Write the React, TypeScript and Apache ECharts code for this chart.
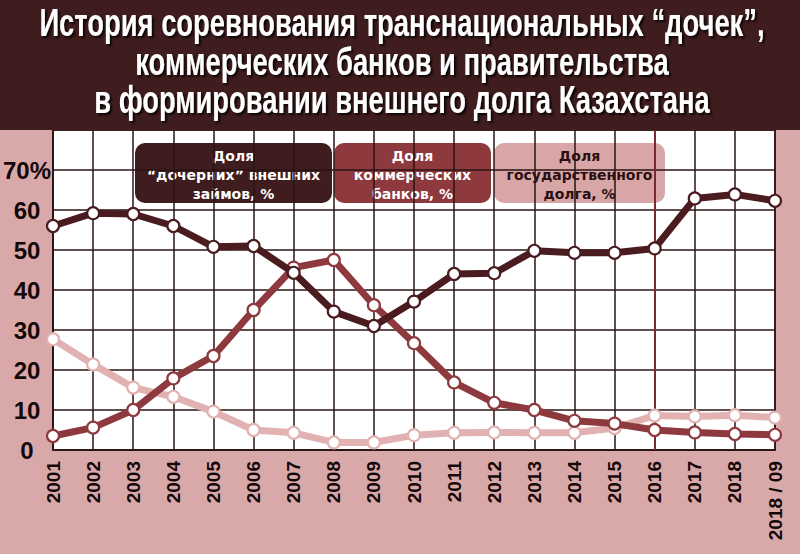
import React, { useEffect, useRef } from "react";
import * as echarts from "echarts";

const categories = [
  "2001", "2002", "2003", "2004", "2005", "2006", "2007", "2008", "2009", "2010",
  "2011", "2012", "2013", "2014", "2015", "2016", "2017", "2018", "2018 / 09",
];

const subsidiaryShare = [56, 59.2, 59, 56, 50.8, 51, 44.3, 34.6, 31, 37.1, 44, 44.2, 49.8, 49.3, 49.3, 50.4, 62.9, 63.9, 62.3];
const bankShare = [3.5, 5.6, 10, 17.9, 23.5, 35, 45.6, 47.5, 36.2, 26.7, 16.9, 11.8, 10, 7.3, 6.6, 5, 4.4, 4, 3.8];
const govShare = [27.7, 21.4, 15.6, 13.3, 9.6, 5, 4.3, 1.9, 1.9, 3.7, 4.3, 4.4, 4.3, 4.3, 5.5, 8.6, 8.4, 8.7, 8.1];

const seriesNames = [
  "Доля\n“дочерних” внешних\nзаймов, %",
  "Доля\nкоммерческих\nбанков, %",
  "Доля\nгосударственного\nдолга, %",
];

const titleLines = [
  "История соревнования транснациональных “дочек”,",
  "коммерческих банков и правительства",
  "в формировании внешнего долга Казахстана",
];

const C_DARK = "#4a1c1f";
const C_RED = "#8e393e";
const C_LIGHT = "#e2b2b3";
const BG = "#d9a9aa";
const BAND = "#3f1c1d";
const GRIDC = "#2a1414";
const SANS = "'Liberation Sans', Arial, sans-serif";

export default function App() {
  const ref = useRef<HTMLDivElement>(null);
  useEffect(() => {
    if (!ref.current) return;
    const chart = echarts.init(ref.current, undefined, { renderer: "svg" });
    const mkSeries = (name: string, data: number[], color: string, z: number, extra: any = {}) => ({
      name,
      type: "line",
      data,
      z,
      symbol: "circle",
      symbolSize: 12,
      showSymbol: true,
      lineStyle: { color, width: 7 },
      itemStyle: { color: "#ffffff", borderColor: color, borderWidth: 2.2 },
      ...extra,
    });
    const legendBox = (x: number, w: number, fill: string, textColor: string, text: string) => ({
      type: "group",
      x,
      y: 143,
      z: 50,
      children: [
        { type: "rect", shape: { x: 0, y: 0, width: w, height: 60, r: 10 }, style: { fill } },
        ...text.split("\n").map((line, i) => ({
          type: "text",
          x: w / 2,
          y: 12.5 + i * 19,
          style: {
            text: line,
            fill: textColor,
            align: "center",
            verticalAlign: "middle",
            font: "bold 14px 'DejaVu Sans', sans-serif",
          },
        })),
      ],
    });
    chart.setOption({
      animation: false,
      backgroundColor: BG,
      grid: {
        left: 53,
        right: 25,
        top: 130,
        bottom: 104,
        show: true,
        backgroundColor: "#ffffff",
        borderColor: GRIDC,
        borderWidth: 1.5,
      },
      xAxis: {
        type: "category",
        data: categories,
        boundaryGap: false,
        axisLine: { show: true, lineStyle: { color: GRIDC, width: 1.5 } },
        axisTick: { show: false },
        splitLine: { show: true, lineStyle: { color: GRIDC, width: 1.5 } },
        axisLabel: {
          rotate: 90,
          interval: 0,
          margin: 11,
          color: "#140808",
          fontFamily: SANS,
          fontWeight: "bold",
          fontSize: 19,
        },
      },
      yAxis: {
        type: "value",
        min: 0,
        max: 80,
        interval: 10,
        axisLine: { show: true, lineStyle: { color: GRIDC, width: 1.5 } },
        axisTick: { show: false },
        splitLine: { show: true, lineStyle: { color: GRIDC, width: 1.5 } },
        axisLabel: {
          margin: 26,
          align: "center",
          color: "#140808",
          fontFamily: SANS,
          fontWeight: "bold",
          fontSize: 24,
          formatter: (v: number) => (v === 80 ? "" : v === 70 ? "70%" : String(v)),
        },
      },
      series: [
        mkSeries(seriesNames[2], govShare, C_LIGHT, 3),
        mkSeries(seriesNames[1], bankShare, C_RED, 4, {
          markLine: {
            silent: true,
            symbol: "none",
            label: { show: false },
            lineStyle: { color: "#7a2a30", width: 2, type: "solid" },
            data: [{ xAxis: "2016" }],
            z: 1,
          },
        }),
        mkSeries(seriesNames[0], subsidiaryShare, C_DARK, 5),
      ],
      graphic: [
        { type: "rect", z: 40, shape: { x: 0, y: 0, width: 800, height: 130 }, style: { fill: BAND } },
        {
          type: "text",
          z: 41,
          x: 402,
          y: 4,
          scaleX: 0.72,
          style: {
            text: titleLines.join("\n"),
            fill: "#ffffff",
            align: "center",
            verticalAlign: "top",
            font: `bold 38px ${SANS}`,
            lineHeight: 38.5,
            textShadowColor: "rgba(0,0,0,0.85)",
            textShadowOffsetX: 2,
            textShadowOffsetY: 2,
            textShadowBlur: 2,
          },
        },
        legendBox(135, 197, BAND, "#ffffff", seriesNames[0]),
        legendBox(334, 157, C_RED, "#ffffff", seriesNames[1]),
        legendBox(494, 171, "#d8a6a7", "#2a1010", seriesNames[2]),
      ],
    });
    return () => chart.dispose();
  }, []);
  return (
    <div
      ref={ref}
      style={{ position: "absolute", left: 0, top: 0, width: 800, height: 554 }}
    />
  );
}
